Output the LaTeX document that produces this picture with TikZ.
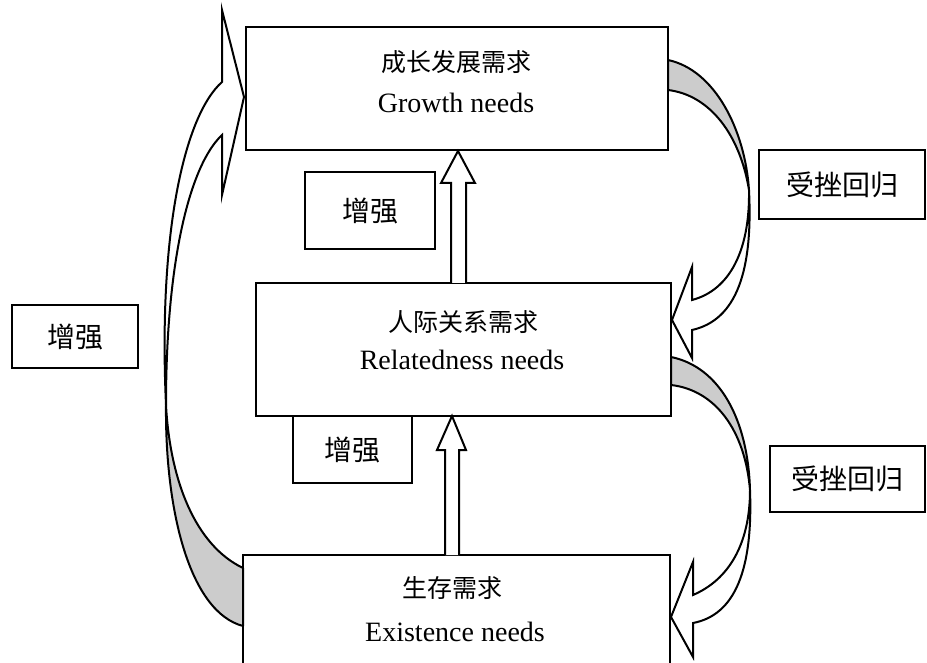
\documentclass[tikz,border=0pt]{standalone}
\usepackage{fontspec}
\setmainfont{Liberation Serif}
\newfontfamily\cjk{Noto Sans CJK SC}
\definecolor{bandgray}{RGB}{204,204,204}
\begin{document}
\begin{tikzpicture}[x=1pt,y=-1pt]
\useasboundingbox (0,0) rectangle (927,663);
\tikzset{
 box/.style={draw, line width=2pt, inner sep=0pt},
 title/.style={font=\cjk\fontsize{25}{28}\selectfont, inner sep=0pt},
 eng/.style={font=\fontsize{28}{30}\selectfont, inner sep=0pt},
 lab/.style={font=\cjk\fontsize{28}{30}\selectfont},
 blockarrow/.style={draw, fill=white, line width=2pt, line join=miter},
 band/.style={draw, fill=bandgray, line width=2pt, line join=round}
}
% main boxes
\node[box, minimum width=422pt, minimum height=123pt] (G) at (457,88.5) {};
\node[box, minimum width=415pt, minimum height=133pt] (R) at (463.5,349.5) {};
\node[box, minimum width=427pt, minimum height=160pt] (E) at (456.5,635) {};
% titles
\node[title] (gcn) at (456,62) {成长发展需求};
\node[eng] (gen) at (456,103) {Growth needs};
\node[title] (rcn) at (463,322) {人际关系需求};
\node[eng] (ren) at (462,360) {Relatedness needs};
\node[title] (ecn) at (452,588) {生存需求};
\node[eng] (een) at (455,632) {Existence needs};
% label boxes
\node[box, lab, minimum width=130pt, minimum height=77pt] (l1) at (370,210.5) {增强};
\node[box, lab, minimum width=126pt, minimum height=63pt] (l2) at (75,336.5) {增强};
\node[box, lab, minimum width=119pt, minimum height=67pt] (l3) at (352.5,449.5) {增强};
\node[box, lab, minimum width=166pt, minimum height=69pt] (r1) at (842,184.5) {受挫回归};
\node[box, lab, minimum width=155pt, minimum height=66pt] (r2) at (847.5,479) {受挫回归};
% vertical block arrows
\draw[blockarrow] (451,283) -- (451,183) -- (441,183) -- (458,151) -- (475,183) -- (466,183) -- (466,283);
\draw[blockarrow] (445,555) -- (445,450) -- (437,450) -- (452,416) -- (466,450) -- (459,450) -- (459,555);
% left curved arrow
\draw[band] (243,568) .. controls (195,545) and (170,480) .. (166,405)
  .. controls (165,512) and (190,612) .. (243,626) -- cycle;
\draw[blockarrow] (166,405) .. controls (158,230) and (185,115) .. (222,82)
  -- (222,10) -- (244,97) -- (222,195) -- (222,135)
  .. controls (190,165) and (166,260) .. (166,405) -- cycle;
% top right curved arrow
\draw[band] (668,60) .. controls (715,70) and (745,130) .. (749,190)
  .. controls (740,135) and (710,95) .. (668,90) -- cycle;
\draw[blockarrow] (749,190) .. controls (753,270) and (737,320) .. (692,330)
  -- (692,358) -- (672,320) -- (692,267) -- (692,300)
  .. controls (730,290) and (750,250) .. (749,190) -- cycle;
% bottom right curved arrow
\draw[band] (671,357) .. controls (720,367) and (748,420) .. (750,490)
  .. controls (745,430) and (715,390) .. (671,385) -- cycle;
\draw[blockarrow] (750,490) .. controls (753,570) and (735,615) .. (693,623)
  -- (693,657) -- (671,617) -- (693,562) -- (693,595)
  .. controls (728,580) and (750,545) .. (750,490) -- cycle;
\end{tikzpicture}
\end{document}
